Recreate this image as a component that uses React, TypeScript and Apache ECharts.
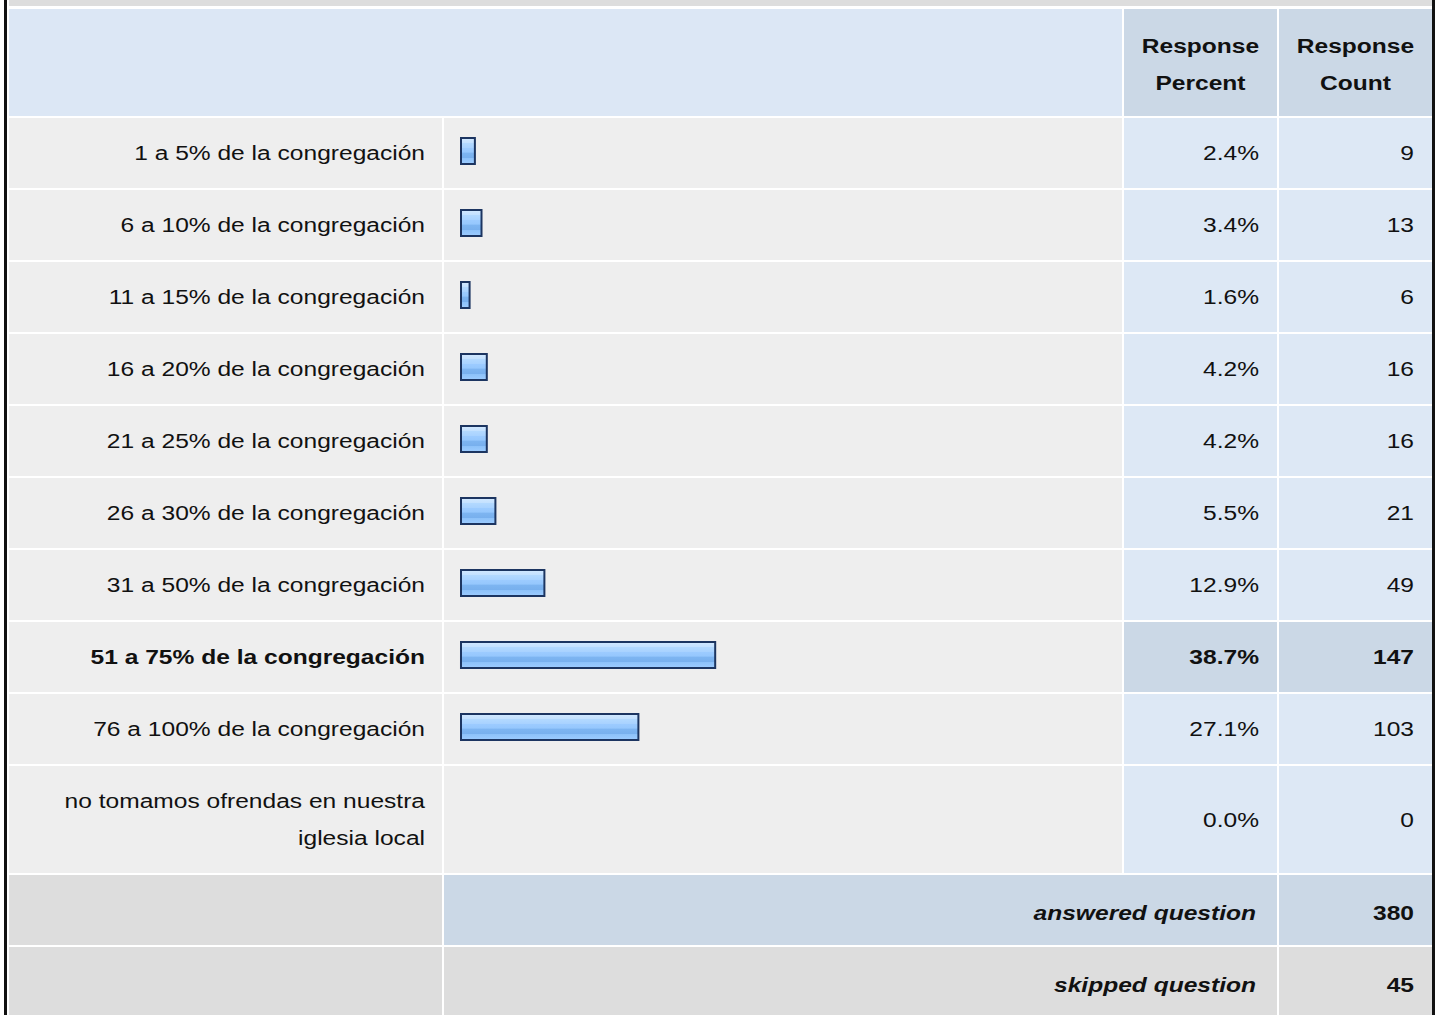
import React, { useEffect, useRef } from "react";
import * as echarts from "echarts";

const categories = [
  "1 a 5% de la congregación",
  "6 a 10% de la congregación",
  "11 a 15% de la congregación",
  "16 a 20% de la congregación",
  "21 a 25% de la congregación",
  "26 a 30% de la congregación",
  "31 a 50% de la congregación",
  "51 a 75% de la congregación",
  "76 a 100% de la congregación",
  "no tomamos ofrendas en nuestra\niglesia local",
];
const percents = [2.4, 3.4, 1.6, 4.2, 4.2, 5.5, 12.9, 38.7, 27.1, 0.0];
const counts = [9, 13, 6, 16, 16, 21, 49, 147, 103, 0];
const headerPercent = "Response\nPercent";
const headerCount = "Response\nCount";
const footerLabels = ["answered question", "skipped question"];
const footerValues = [380, 45];

const FONT = "'Liberation Sans', Arial, Helvetica, sans-serif";
const TXT = "#111111";
const GRAY_CELL = "#eeeeee";
const BLUE_CELL = "#dde8f5";
const BLUE_DARK = "#cbd8e6";
const FOOT_GRAY = "#dddddd";
const STRETCH = 1.17;

// column extents [x0, x1]
const C1 = [9, 442];
const C2 = [444, 1122];
const C3 = [1124, 1277];
const C4 = [1279, 1432];

export default function App() {
  const ref = useRef<HTMLDivElement>(null);
  useEffect(() => {
    if (!ref.current) return;
    const chart = echarts.init(ref.current, undefined, { renderer: "svg" });
    const maxIdx = counts.indexOf(Math.max(...counts));

    const els: any[] = [];
    const rect = (x0: number, y0: number, x1: number, y1: number, fill: string) =>
      els.push({ type: "rect", z: 0, shape: { x: x0, y: y0, width: x1 - x0, height: y1 - y0 }, style: { fill } });
    const text = (
      t: string, x: number, y: number, align: string, opts: any = {}
    ) =>
      els.push({
        type: "text",
        z: 1,
        x, y,
        scaleX: STRETCH,
        style: {
          text: t, x: 0, y: 0, fill: TXT, fontFamily: FONT, fontSize: 21,
          fontWeight: opts.bold ? "bold" : "normal",
          fontStyle: opts.italic ? "italic" : "normal",
          textAlign: align, textVerticalAlign: "middle", lineHeight: opts.lh || 37,
        },
      });

    // top band
    rect(C1[0], 0, C4[1], 6, FOOT_GRAY);
    // header
    rect(C1[0], 9, C2[1], 116, "#dce7f5");
    rect(C3[0], 9, C3[1], 116, BLUE_DARK);
    rect(C4[0], 9, C4[1], 116, BLUE_DARK);
    text(headerPercent, (C3[0] + C3[1]) / 2, 64, "center", { bold: true, lh: 37 });
    text(headerCount, (C4[0] + C4[1]) / 2, 64, "center", { bold: true, lh: 37 });

    // body rows
    categories.forEach((c, i) => {
      const y0 = 118 + 72 * i;
      const y1 = i < 9 ? y0 + 70 : 873;
      const hl = i === maxIdx;
      rect(C1[0], y0, C1[1], y1, GRAY_CELL);
      rect(C2[0], y0, C2[1], y1, GRAY_CELL);
      rect(C3[0], y0, C3[1], y1, hl ? BLUE_DARK : BLUE_CELL);
      rect(C4[0], y0, C4[1], y1, hl ? BLUE_DARK : BLUE_CELL);
      const cy = (y0 + y1) / 2;
      text(c, 425, cy, "right", { bold: hl });
      text(percents[i].toFixed(1) + "%", 1259, cy, "right", { bold: hl });
      text(String(counts[i]), 1414, cy, "right", { bold: hl });
    });

    // footer
    footerLabels.forEach((f, j) => {
      const y0 = 875 + 72 * j;
      const y1 = y0 + 70;
      const fill = j === 0 ? BLUE_DARK : FOOT_GRAY;
      rect(C1[0], y0, C1[1], y1, FOOT_GRAY);
      rect(C2[0], y0, C3[1], y1, fill);
      rect(C4[0], y0, C4[1], y1, fill);
      const cy = (y0 + y1) / 2 + 3;
      text(f, 1256, cy, "right", { bold: true, italic: true });
      text(String(footerValues[j]), 1414, cy, "right", { bold: true });
    });

    // outer side borders
    rect(4, 0, 7, 1015, "#111111");
    rect(1432, 0, 1435, 1015, "#111111");

    const grad = new echarts.graphic.LinearGradient(0, 0, 0, 1, [
      { offset: 0, color: "#d2e9ff" },
      { offset: 0.18, color: "#c4e1ff" },
      { offset: 0.2, color: "#b3d9ff" },
      { offset: 0.38, color: "#a8d2ff" },
      { offset: 0.4, color: "#9ccbff" },
      { offset: 0.55, color: "#95c7fd" },
      { offset: 0.57, color: "#7eb5f1" },
      { offset: 0.75, color: "#78b0ee" },
      { offset: 0.77, color: "#8cc1f9" },
      { offset: 1, color: "#9dccff" },
    ]);

    chart.setOption({
      animation: false,
      backgroundColor: "#ffffff",
      grid: { left: 460, top: 115, width: 662, height: 720, containLabel: false },
      xAxis: { type: "value", min: 0, max: 100, show: false },
      yAxis: { type: "category", inverse: true, data: categories, show: false },
      graphic: { elements: els },
      series: [
        {
          type: "bar",
          z: 10,
          barWidth: 28,
          silent: true,
          itemStyle: { color: grad, borderColor: "#1c3561", borderWidth: 2 },
          data: percents.map((p) => (p === 0 ? { value: p, itemStyle: { borderWidth: 0, opacity: 0 } } : p)),
        },
      ],
    });
    return () => chart.dispose();
  }, []);
  return (
    <div
      ref={ref}
      style={{ position: "absolute", left: 0, top: 0, width: 1440, height: 1015 }}
    />
  );
}
